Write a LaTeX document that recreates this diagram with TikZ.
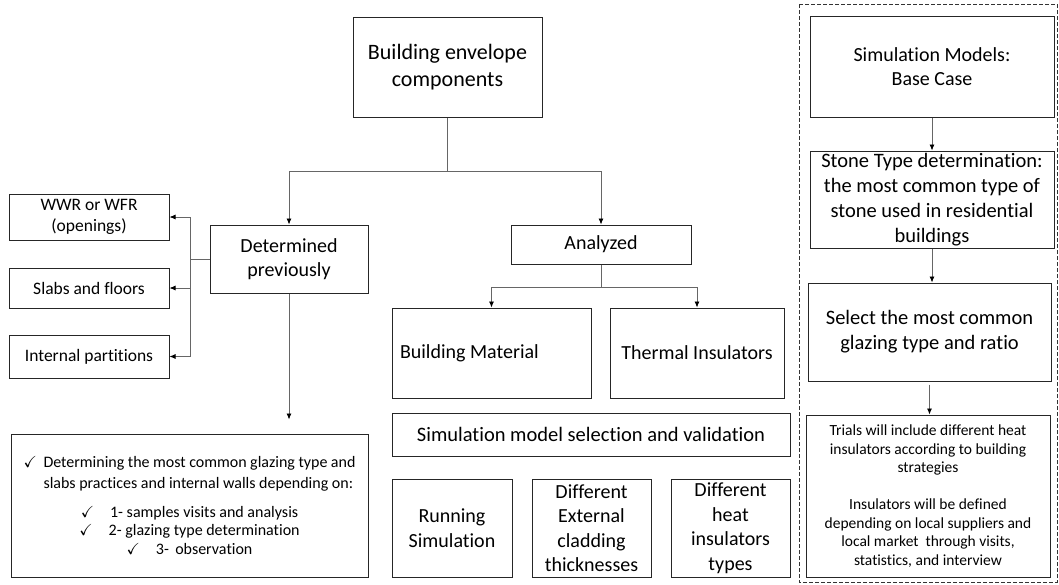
\documentclass[tikz,border=0pt]{standalone}
\usepackage{amssymb}
\usepackage{fontspec}
\setmainfont{Carlito}[Ligatures=NoCommon]
\usetikzlibrary{arrows.meta,calc}
\newcommand{\fs}[2]{\fontsize{#1}{#2}\selectfont}

\begin{document}
\begin{tikzpicture}[x=1pt,y=-1pt,
    box/.style={draw=black!85,line width=1pt,align=center,inner sep=2pt},
    conn/.style={draw=black!60,line width=0.8pt},
    arr/.style={conn,-{Latex[length=6pt,width=5pt,black]}}]
    \useasboundingbox (0,0) rectangle (1059,584);
    % top and the two branches
    \node[box,minimum width=189pt,minimum height=100pt,font=\fs{22}{27}] (env) at (447.5,67){Building envelope\\components};
    \node[box,minimum width=158pt,minimum height=68pt,font=\fs{20}{24}] (det) at (289,259){Determined\\previously};
    \node[box,minimum width=180pt,minimum height=39pt,font=\fs{20}{24}] (ana) at (601,244.5){Analyzed};
    \coordinate (split) at (447.5,171);
    \draw[conn] (env.south) -- (split);
    \draw[arr] (split) -| (det.north);
    \draw[arr] (split) -| (ana.north);
    % determined previously
    \node[box,minimum width=160pt,minimum height=46pt,font=\fs{17.5}{21}] (wwr) at (89,217){WWR or WFR\\(openings)};
    \node[box,minimum width=160pt,minimum height=40pt,font=\fs{17.5}{21}] (slab) at (89,288){Slabs and floors};
    \node[box,minimum width=160pt,minimum height=43pt,font=\fs{17.5}{21}] (part) at (89,356.5){Internal partitions};
    \coordinate (lsplit) at (190,259);
    \draw[conn] (det.west) -- (lsplit);
    \draw[arr] (lsplit) |- (wwr.east);
    \draw[arr] (lsplit) |- (slab.east);
    \draw[arr] (lsplit) |- (part.east);
    \node[box,minimum width=357pt,minimum height=143pt,font=\fs{16}{21}] (glz) at (189.5,505.5){%
      \makebox[20pt][l]{$\checkmark$}\parbox[t]{312pt}{\raggedright Determining the most common glazing type and\\slabs practices and internal walls depending on:}\\[14pt]
      {\fs{16}{18.5}$\checkmark$\quad 1- samples visits and analysis}\\[-2.5pt]
      {\fs{16}{18.5}$\checkmark$\quad 2- glazing type determination}\\[-2.5pt]
      {\fs{16}{18.5}$\checkmark$\quad 3-\, observation}};
    \draw[arr,shorten >=14pt] (det.south) -- (det.south |- glz.north);
    % analyzed
    \node[box,minimum width=199pt,minimum height=90pt,text width=183pt,inner xsep=7pt,align=flush left,font=\fs{20}{24}] (mat) at (491.5,353){Building Material};
    \node[box,minimum width=174pt,minimum height=90pt,font=\fs{20}{24}] (ins) at (697,353){Thermal Insulators};
    \coordinate (asplit) at (601,287);
    \draw[conn] (ana.south) -- (asplit);
    \draw[arr] (asplit) -| (mat.north);
    \draw[arr] (asplit) -| (ins.north);
    \node[box,minimum width=398pt,minimum height=43pt,font=\fs{20.5}{24}] (sel) at (591,434.5){Simulation model selection and validation};
    \node[box,minimum width=120pt,minimum height=98pt,font=\fs{20}{24.5}] (run) at (452,528){Running\\Simulation};
    \node[box,minimum width=119pt,minimum height=98pt,font=\fs{20}{24.5}] (clad) at (591.5,528){Different\\External\\cladding\\thicknesses};
    \node[box,minimum width=119pt,minimum height=98pt,font=\fs{20}{24.5}] (heat) at (730.5,528){Different\\heat\\insulators\\types};
    % base case column
    \draw[draw=black!80,line width=0.8pt,dash pattern=on 4pt off 2pt] (799,4) rectangle (1057,582);
    \node[box,minimum width=244pt,minimum height=101pt,font=\fs{20}{24}] (base) at (932,66.5){Simulation Models:\\Base Case};
    \node[box,minimum width=244pt,minimum height=97pt,font=\fs{20.5}{25}] (stone) at (932,199.5){Stone Type determination:\\the most common type of\\stone used in residential\\buildings};
    \node[box,minimum width=243pt,minimum height=98pt,font=\fs{20.5}{25}] (glaze) at (929.5,332){Select the most common\\glazing type and ratio};
    \node[box,minimum width=244pt,minimum height=162pt,font=\fs{15.5}{18.5}] (trial) at (928,496){Trials will include different heat\\insulators according to building\\strategies\\[18.5pt]Insulators will be defined\\depending on local suppliers and\\local market\ \ through visits,\\statistics, and interview};
    \draw[arr] (base.south) -- (stone.north);
    \draw[arr] (stone.south) -- (stone.south |- glaze.north);
    \draw[arr,shorten <=3pt] (glaze.south) -- (glaze.south |- trial.north);
\end{tikzpicture}
\end{document}
